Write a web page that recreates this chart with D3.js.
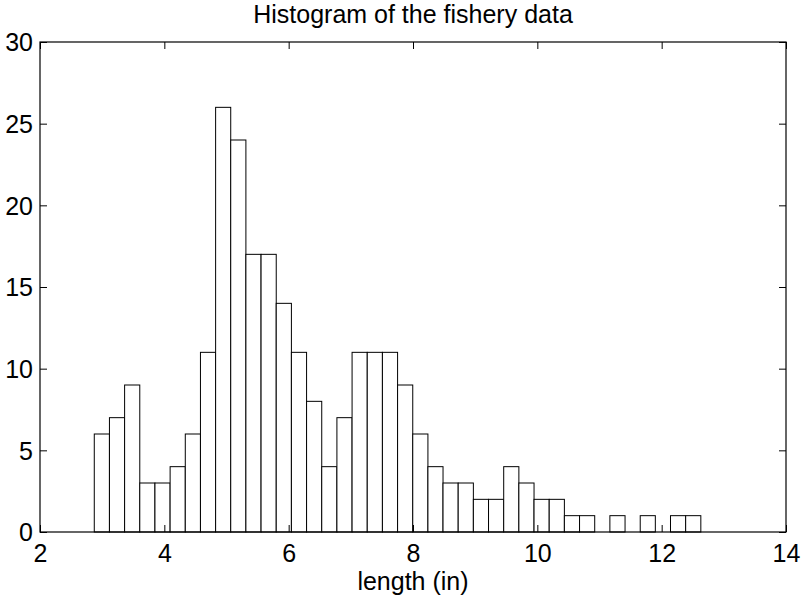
<!DOCTYPE html>
<html><head><meta charset="utf-8">
<script src="https://cdn.jsdelivr.net/npm/d3@7"></script>
<style>body{margin:0;background:#fff}svg{display:block}text{font-family:"Liberation Sans",Arial,sans-serif;fill:#000}</style>
</head><body>
<script>
const binEdges = [2.873,3.117,3.361,3.605,3.849,4.093,4.337,4.581,4.825,5.068,5.312,5.556,5.800,6.044,6.288,6.532,6.776,7.020,7.264,7.508,7.752,7.996,8.240,8.483,8.727,8.971,9.215,9.459,9.703,9.947,10.191,10.435,10.679,10.923,11.167,11.411,11.655,11.898,12.142,12.386,12.630];
const counts = [6,7,9,3,3,4,6,11,26,24,17,17,14,11,8,4,7,11,11,11,9,6,4,3,3,2,2,4,3,2,2,1,1,0,1,0,1,0,1,1];
const xTicks = [2,4,6,8,10,12,14];
const yTicks = [0,5,10,15,20,25,30];
const title = "Histogram of the fishery data";
const xLabel = "length (in)";

const W = 802, H = 601;
const m = {l:40, r:16, t:42, b:69};
const svg = d3.select("body").append("svg").attr("width", W).attr("height", H);
const x = d3.scaleLinear().domain([2,14]).range([m.l, W - m.r]);
const y = d3.scaleLinear().domain([0,30]).range([H - m.b, m.t]);

const bins = counts.map((c,i)=>({x0:binEdges[i], x1:binEdges[i+1], c}));
svg.append("g").selectAll("rect").data(bins.filter(d=>d.c>0)).join("rect")
  .attr("x", d=>x(d.x0)).attr("width", d=>x(d.x1)-x(d.x0))
  .attr("y", d=>y(d.c)).attr("height", d=>y(0)-y(d.c))
  .attr("fill","#fff").attr("stroke","#000").attr("stroke-width",1);

// frame
svg.append("rect").attr("x", x(2)).attr("y", y(30)).attr("width", x(14)-x(2)).attr("height", y(0)-y(30))
  .attr("fill","none").attr("stroke","#000").attr("stroke-width",1.2);

const fs = "25px";
const gx = svg.append("g").attr("transform",`translate(0,${y(0)})`)
  .call(d3.axisBottom(x).tickValues(xTicks).tickSize(-7).tickPadding(12).tickFormat(d3.format("d")));
const gxt = svg.append("g").attr("transform",`translate(0,${y(30)})`)
  .call(d3.axisTop(x).tickValues(xTicks).tickSize(-7).tickFormat(""));
const gy = svg.append("g").attr("transform",`translate(${x(2)},0)`)
  .call(d3.axisLeft(y).tickValues(yTicks).tickSize(-7).tickPadding(7).tickFormat(d3.format("d")));
const gyr = svg.append("g").attr("transform",`translate(${x(14)},0)`)
  .call(d3.axisRight(y).tickValues(yTicks).tickSize(-7).tickFormat(""));
[gx,gxt,gy,gyr].forEach(g=>{
  g.select(".domain").remove();
  g.selectAll("line").attr("stroke","#000");
  g.selectAll("text").attr("font-size",fs).attr("font-family","Liberation Sans, Arial, sans-serif").attr("fill","#000");
});
gy.selectAll("text").attr("dy","0.35em");

svg.append("text").attr("x", x(8)).attr("y", 23).attr("text-anchor","middle")
  .attr("font-size","25px").text(title);
svg.append("text").attr("x", x(8)).attr("y", 590).attr("text-anchor","middle")
  .attr("font-size","25px").text(xLabel);
</script>
</body></html>
